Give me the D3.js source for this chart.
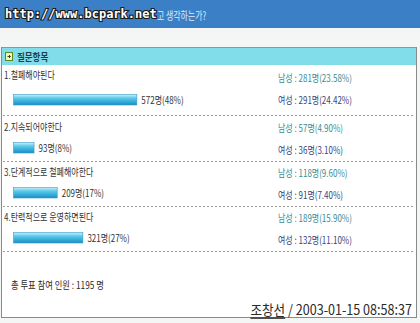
<!DOCTYPE html>
<html>
<head>
<meta charset="utf-8">
<script src="https://cdn.jsdelivr.net/npm/d3@7"></script>
<style>
  html, body { margin: 0; padding: 0; background: #f4f5f5; }
  svg { display: block; }
  text { font-family: "Noto Sans CJK KR", "Noto Sans", sans-serif; }
</style>
</head>
<body>
<svg id="chart" width="420" height="323"></svg>
<script>
// Poll options and vote counts
const options = ["1.철폐해야된다", "2.지속되어야한다", "3.단계적으로 철폐해야한다", "4.탄력적으로 운영하면된다"];
const totals = [572, 93, 209, 321];
const totalPct = [48, 8, 17, 27];
const maleCounts = [281, 57, 118, 189];
const malePct = ["23.58", "4.90", "9.60", "15.90"];
const femaleCounts = [291, 36, 91, 132];
const femalePct = ["24.42", "3.10", "7.40", "11.10"];
const totalVoters = 1195;
const author = "조창선";
const stamp = "2003-01-15 08:58:37";

const W = 420, H = 323;
const svg = d3.select("#chart");

const defs = svg.append("defs");
const grad = defs.append("linearGradient").attr("id", "barGrad")
  .attr("x1", 0).attr("y1", 0).attr("x2", 0).attr("y2", 1);
grad.append("stop").attr("offset", "0%").attr("stop-color", "#c8f0fa");
grad.append("stop").attr("offset", "35%").attr("stop-color", "#5cc8ea");
grad.append("stop").attr("offset", "75%").attr("stop-color", "#2ea6d6");
grad.append("stop").attr("offset", "100%").attr("stop-color", "#1d8cbf");

// horizontally condensed text helper
function label(g, x, y, str, opts = {}) {
  const sx = opts.sx || 0.8;
  return g.append("text")
    .attr("transform", `translate(${x},${y}) scale(${sx},1)`)
    .attr("dominant-baseline", "central")
    .attr("text-anchor", opts.anchor || "start")
    .attr("font-size", opts.size || 10)
    .attr("font-weight", opts.weight || 400)
    .attr("fill", opts.fill || "#333")
    .text(str);
}

// page background
svg.append("rect").attr("width", W).attr("height", H).attr("fill", "#f4f5f5");

// title bar
svg.append("rect").attr("x", 0).attr("y", 0).attr("width", W).attr("height", 28).attr("fill", "#3b80c6");
svg.append("text")
  .attr("x", 5).attr("y", 14)
  .attr("dominant-baseline", "central")
  .style("font-family", "'DejaVu Sans Mono', monospace")
  .attr("font-size", 12).attr("font-weight", 700)
  .attr("fill", "#ffffff").attr("stroke", "#1a1a1a").attr("stroke-width", 2.2)
  .attr("paint-order", "stroke")
  .text("http://www.bcpark.net");
label(svg, 157, 15, "고 생각하는가?", { size: 11, fill: "#dcecfb", sx: 0.72 });

// panel
const panelX = 1.5, panelY = 47.5, panelW = 415, panelH = 270;
svg.append("rect").attr("x", panelX).attr("y", panelY).attr("width", panelW).attr("height", panelH)
  .attr("fill", "#ffffff").attr("stroke", "#8a8a8a");
svg.append("rect").attr("x", panelX + 0.5).attr("y", panelY).attr("width", panelW - 1).attr("height", 17.5)
  .attr("fill", "#80dde9");
svg.append("line").attr("x1", panelX).attr("x2", panelX + panelW).attr("y1", panelY).attr("y2", panelY)
  .attr("stroke", "#5aaab8");

// header icon and caption
svg.append("rect").attr("x", 5.5).attr("y", 52.5).attr("width", 7).attr("height", 8)
  .attr("fill", "#f4f7b0").attr("stroke", "#5a8a2a");
svg.append("path").attr("d", "M7.5,56.5 H10 M9,55 L10.5,56.5 L9,58").attr("fill", "none")
  .attr("stroke", "#2a4a1a").attr("stroke-width", 1);
label(svg, 17, 57, "질문항목", { size: 10, weight: 700, fill: "#1d3f4c", sx: 0.85 });

// rows
const rowTops = options.map((d, i) => i === 0 ? 65 : 116 + (i - 1) * 45);
const x = d3.scaleLinear().domain([0, 100]).range([0, 257]);

const rows = svg.selectAll("g.row").data(options).join("g").attr("class", "row")
  .attr("transform", (d, i) => `translate(0,${rowTops[i] + (i === 0 ? -1 : 0)})`);

rows.each(function (d, i) {
  const g = d3.select(this);
  const extra = i === 0 ? 4 : 0;
  label(g, 4, 11, d, { fill: "#333333" });
  const bw = x(totalPct[i]);
  g.append("rect").attr("x", 13.5).attr("y", 26.5 + extra).attr("width", bw).attr("height", 10.5)
    .attr("fill", "url(#barGrad)").attr("stroke", "#3a9cc8").attr("stroke-width", 0.6);
  label(g, 13 + bw + 5, 32 + extra, `${totals[i]}명(${totalPct[i]}%)`, { fill: "#333333" });
  label(g, 278, 12 + extra / 2, `남성 : ${maleCounts[i]}명(${malePct[i]}%)`, { fill: "#3a8c94" });
  label(g, 278, 34 + extra / 2, `여성 : ${femaleCounts[i]}명(${femalePct[i]}%)`, { fill: "#34457e" });
  const sepY = (i === 0 ? 51 : 45) + 0.5;
  g.append("line").attr("x1", 3).attr("x2", 415).attr("y1", sepY).attr("y2", sepY)
    .attr("stroke", "#9a9a9a").attr("stroke-dasharray", "2,2");
});

// footer
label(svg, 11, 285, `총 투표 참여 인원 : ${totalVoters} 명`, { fill: "#2a2a2a", sx: 0.83 });
const sig = svg.append("text")
  .attr("transform", `translate(412,309) scale(0.9,1)`)
  .attr("text-anchor", "end").attr("dominant-baseline", "central")
  .attr("font-size", 14).attr("fill", "#2a2a2a");
sig.append("tspan").attr("text-decoration", "underline").text(author);
sig.append("tspan").text(` / ${stamp}`);
</script>
</body>
</html>
